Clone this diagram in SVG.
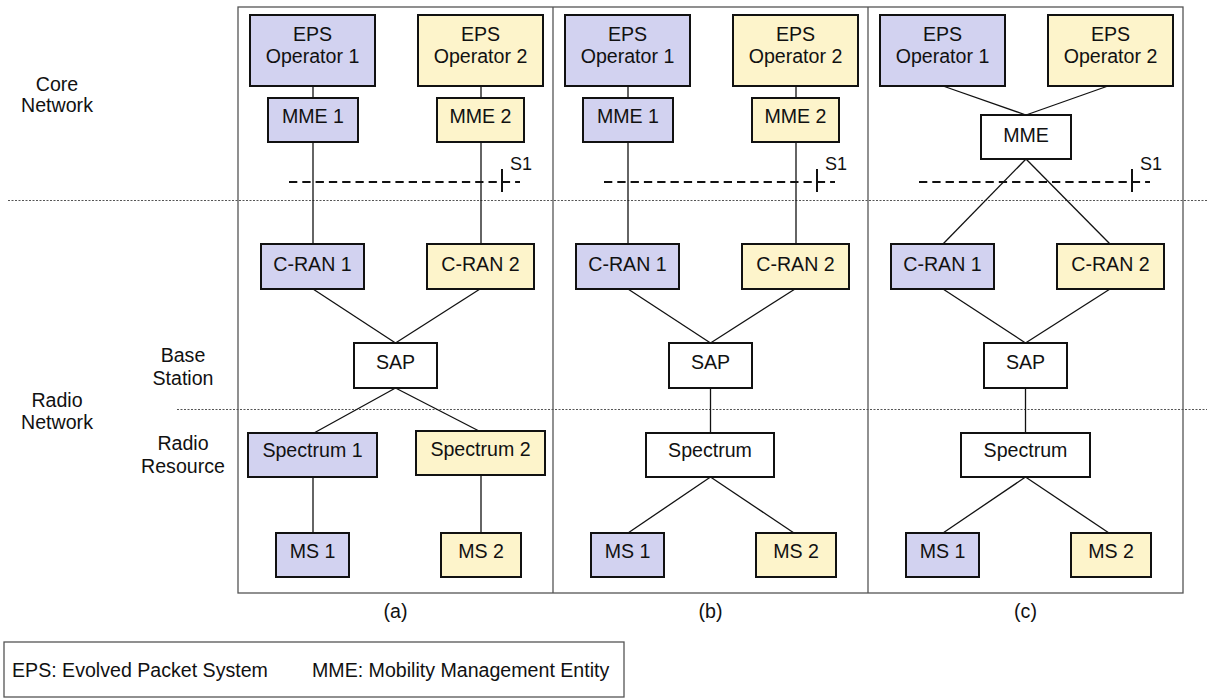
<svg xmlns="http://www.w3.org/2000/svg" width="1207" height="698" viewBox="0 0 1207 698">
<style>
text{font-family:"Liberation Sans",Arial,sans-serif;font-size:19.6px;fill:#111;text-anchor:middle}
.n{stroke:#111;stroke-width:2}
.b{fill:#d2d2f0}.y{fill:#fdf4cb}.w{fill:#fff}
.c{stroke:#111;stroke-width:1.3;fill:none}
.s1{stroke:#111;stroke-width:2;stroke-dasharray:8.3 5;fill:none}
.tick{stroke:#111;stroke-width:2}
.dot{stroke:#555;stroke-width:1;stroke-dasharray:2 1.5;fill:none}
.frame{stroke:#555;stroke-width:1.3;fill:none}
.s1t{font-size:18px;text-anchor:start}
</style>
<rect width="1207" height="698" fill="#fff"/>
<g id="frames">
<rect class="frame" x="238" y="7" width="945" height="586"/>
<line class="frame" x1="553" y1="7" x2="553" y2="593"/>
<line class="frame" x1="868" y1="7" x2="868" y2="593"/>
</g>
<g id="separators">
<line class="dot" x1="8" y1="200.5" x2="1207" y2="200.5"/>
<line class="dot" x1="177" y1="409.5" x2="1207" y2="409.5"/>
</g>
<g id="side-labels">
<text x="57" y="91">Core</text><text x="57" y="112">Network</text>
<text x="183" y="362">Base</text><text x="183" y="385">Station</text>
<text x="57" y="407">Radio</text><text x="57" y="429">Network</text>
<text x="183" y="450">Radio</text><text x="183" y="473">Resource</text>
</g>
<g id="connectors">
<!-- (a) -->
<line class="c" x1="313" y1="86" x2="313" y2="98"/>
<line class="c" x1="481" y1="86" x2="481" y2="98"/>
<line class="c" x1="313" y1="142" x2="313" y2="244"/>
<line class="c" x1="481" y1="142" x2="481" y2="244"/>
<line class="c" x1="313" y1="289" x2="395.5" y2="343"/>
<line class="c" x1="480" y1="289" x2="395.5" y2="343"/>
<line class="c" x1="395.5" y1="388" x2="314" y2="433"/>
<line class="c" x1="395.5" y1="388" x2="479" y2="431"/>
<line class="c" x1="313" y1="477" x2="313" y2="533"/>
<line class="c" x1="481" y1="475" x2="481" y2="533"/>
<!-- (b) -->
<line class="c" x1="628" y1="86" x2="628" y2="98"/>
<line class="c" x1="796" y1="86" x2="796" y2="98"/>
<line class="c" x1="628" y1="142" x2="628" y2="244"/>
<line class="c" x1="796" y1="142" x2="796" y2="244"/>
<line class="c" x1="628" y1="289" x2="710.5" y2="343"/>
<line class="c" x1="795" y1="289" x2="710.5" y2="343"/>
<line class="c" x1="710.5" y1="388" x2="710.5" y2="433"/>
<line class="c" x1="710.5" y1="477" x2="628" y2="533"/>
<line class="c" x1="710.5" y1="477" x2="794" y2="533"/>
<!-- (c) -->
<line class="c" x1="943" y1="86" x2="1026" y2="115"/>
<line class="c" x1="1108" y1="86" x2="1026" y2="115"/>
<line class="c" x1="1026" y1="159" x2="943" y2="244"/>
<line class="c" x1="1026" y1="159" x2="1110" y2="244"/>
<line class="c" x1="943" y1="289" x2="1025.5" y2="343"/>
<line class="c" x1="1110" y1="289" x2="1025.5" y2="343"/>
<line class="c" x1="1025.5" y1="388" x2="1025.5" y2="433"/>
<line class="c" x1="1025.5" y1="477" x2="943" y2="533"/>
<line class="c" x1="1025.5" y1="477" x2="1109" y2="533"/>
</g>
<g id="s1-interfaces">
<line class="s1" x1="289" y1="182" x2="520" y2="182"/>
<line class="tick" x1="502" y1="169" x2="502" y2="192"/>
<text class="s1t" x="510" y="170">S1</text>
<line class="s1" x1="604" y1="182" x2="835" y2="182"/>
<line class="tick" x1="817" y1="169" x2="817" y2="192"/>
<text class="s1t" x="825" y="170">S1</text>
<line class="s1" x1="919" y1="182" x2="1150" y2="182"/>
<line class="tick" x1="1132" y1="169" x2="1132" y2="192"/>
<text class="s1t" x="1140" y="170">S1</text>
</g>
<!-- panel (a) nodes -->
<g id="a-eps1"><rect class="n b" x="250" y="15" width="125" height="71"/><text x="312.5" y="41">EPS</text><text x="312.5" y="63">Operator 1</text></g>
<g id="a-eps2"><rect class="n y" x="418" y="15" width="125" height="71"/><text x="480.5" y="41">EPS</text><text x="480.5" y="63">Operator 2</text></g>
<g id="a-mme1"><rect class="n b" x="268" y="98" width="90" height="44"/><text x="313" y="123">MME 1</text></g>
<g id="a-mme2"><rect class="n y" x="437" y="98" width="87" height="44"/><text x="480.5" y="123">MME 2</text></g>
<g id="a-cran1"><rect class="n b" x="261" y="244" width="103" height="45"/><text x="312.5" y="271">C-RAN 1</text></g>
<g id="a-cran2"><rect class="n y" x="427" y="244" width="107" height="45"/><text x="480.5" y="271">C-RAN 2</text></g>
<g id="a-sap"><rect class="n w" x="354" y="343" width="83" height="45"/><text x="395.5" y="369">SAP</text></g>
<g id="a-spec1"><rect class="n b" x="248" y="433" width="129" height="44"/><text x="312.5" y="457">Spectrum 1</text></g>
<g id="a-spec2"><rect class="n y" x="416" y="431" width="129" height="44"/><text x="480.5" y="456">Spectrum 2</text></g>
<g id="a-ms1"><rect class="n b" x="276" y="533" width="73" height="44"/><text x="312.5" y="558">MS 1</text></g>
<g id="a-ms2"><rect class="n y" x="441" y="533" width="80" height="44"/><text x="481" y="558">MS 2</text></g>
<text x="395.5" y="618">(a)</text>
<!-- panel (b) nodes -->
<g id="b-eps1"><rect class="n b" x="565" y="15" width="125" height="71"/><text x="627.5" y="41">EPS</text><text x="627.5" y="63">Operator 1</text></g>
<g id="b-eps2"><rect class="n y" x="733" y="15" width="125" height="71"/><text x="795.5" y="41">EPS</text><text x="795.5" y="63">Operator 2</text></g>
<g id="b-mme1"><rect class="n b" x="583" y="98" width="90" height="44"/><text x="628" y="123">MME 1</text></g>
<g id="b-mme2"><rect class="n y" x="752" y="98" width="87" height="44"/><text x="795.5" y="123">MME 2</text></g>
<g id="b-cran1"><rect class="n b" x="576" y="244" width="103" height="45"/><text x="627.5" y="271">C-RAN 1</text></g>
<g id="b-cran2"><rect class="n y" x="742" y="244" width="107" height="45"/><text x="795.5" y="271">C-RAN 2</text></g>
<g id="b-sap"><rect class="n w" x="669" y="343" width="83" height="45"/><text x="710.5" y="369">SAP</text></g>
<g id="b-spec"><rect class="n w" x="646" y="433" width="128" height="44"/><text x="710" y="457">Spectrum</text></g>
<g id="b-ms1"><rect class="n b" x="591" y="533" width="73" height="44"/><text x="627.5" y="558">MS 1</text></g>
<g id="b-ms2"><rect class="n y" x="756" y="533" width="80" height="44"/><text x="796" y="558">MS 2</text></g>
<text x="710.5" y="618">(b)</text>
<!-- panel (c) nodes -->
<g id="c-eps1"><rect class="n b" x="880" y="15" width="125" height="71"/><text x="942.5" y="41">EPS</text><text x="942.5" y="63">Operator 1</text></g>
<g id="c-eps2"><rect class="n y" x="1048" y="15" width="125" height="71"/><text x="1110.5" y="41">EPS</text><text x="1110.5" y="63">Operator 2</text></g>
<g id="c-mme"><rect class="n w" x="981" y="115" width="90" height="44"/><text x="1026" y="142">MME</text></g>
<g id="c-cran1"><rect class="n b" x="891" y="244" width="103" height="45"/><text x="942.5" y="271">C-RAN 1</text></g>
<g id="c-cran2"><rect class="n y" x="1057" y="244" width="107" height="45"/><text x="1110.5" y="271">C-RAN 2</text></g>
<g id="c-sap"><rect class="n w" x="984" y="343" width="83" height="45"/><text x="1025.5" y="369">SAP</text></g>
<g id="c-spec"><rect class="n w" x="961" y="433" width="129" height="44"/><text x="1025.5" y="457">Spectrum</text></g>
<g id="c-ms1"><rect class="n b" x="906" y="533" width="73" height="44"/><text x="942.5" y="558">MS 1</text></g>
<g id="c-ms2"><rect class="n y" x="1071" y="533" width="80" height="44"/><text x="1111" y="558">MS 2</text></g>
<text x="1025.5" y="618">(c)</text>
<g id="legend">
<rect x="4" y="642" width="620" height="55" fill="#fff" stroke="#555" stroke-width="1.3"/>
<text x="12" y="677" style="text-anchor:start">EPS: Evolved Packet System</text>
<text x="312" y="677" style="text-anchor:start">MME: Mobility Management Entity</text>
</g>
</svg>
